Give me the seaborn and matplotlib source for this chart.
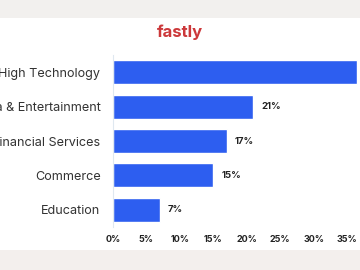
import matplotlib
matplotlib.use("Agg")
import matplotlib.pyplot as plt
import seaborn as sns
import pandas as pd
from matplotlib.patches import Rectangle

categories = ["High Technology", "Media & Entertainment", "Financial Services", "Commerce", "Education"]
values = [36.5, 21, 17, 15, 7]
xticks = [0, 5, 10, 15, 20, 25, 30, 35]
xticklabels = ["0%", "5%", "10%", "15%", "20%", "25%", "30%", "35%"]

df = pd.DataFrame({"category": categories, "value": values})

sns.set_theme(style="white")
plt.rcParams["font.family"] = ["Inter", "DejaVu Sans"]

fig = plt.figure(figsize=(3.6, 2.7), dpi=100)
fig.patch.set_facecolor("white")
# gray bands top and bottom
fig.patches.append(Rectangle((0, 1 - 18 / 270), 1, 18 / 270, transform=fig.transFigure,
                             facecolor="#f2f0ee", edgecolor="none", zorder=0))
fig.patches.append(Rectangle((0, 0), 1, 20 / 270, transform=fig.transFigure,
                             facecolor="#f3efed", edgecolor="none", zorder=0))

fig.text(180 / 360, 1 - 32 / 270, "fastly", ha="center", va="center", color="#cc383a",
         fontsize=12, fontweight="bold")

ax = fig.add_axes([113 / 360, 43 / 270, 247 / 360, 172 / 270])
sns.barplot(data=df, x="value", y="category", color="#2d5ef0", width=0.7,
            saturation=1, ax=ax, orient="h")
xmax = 247 / (234 / 35)
ax.set_xlim(0, xmax)
ax.set_ylim(4.5, -0.5)
ax.set_xticks(xticks)
ax.set_xticklabels(xticklabels, fontsize=6.5, fontweight="bold", color="#222222")
ax.tick_params(axis="x", length=0, pad=6)
ax.tick_params(axis="y", length=0, pad=9, labelsize=9.1, labelcolor="#333333")
ax.set_xlabel("")
ax.set_ylabel("")
for s in ["top", "right", "bottom"]:
    ax.spines[s].set_visible(False)
ax.spines["left"].set_color("#dfe8f0")
ax.spines["left"].set_linewidth(0.8)

for i, v in enumerate(values):
    if v + 4 < xmax:
        ax.text(v + 1.2, i, f"{v:g}%", va="center", ha="left", fontsize=6.8,
                fontweight="bold", color="#222222")

fig.savefig("out.png", dpi=100)
